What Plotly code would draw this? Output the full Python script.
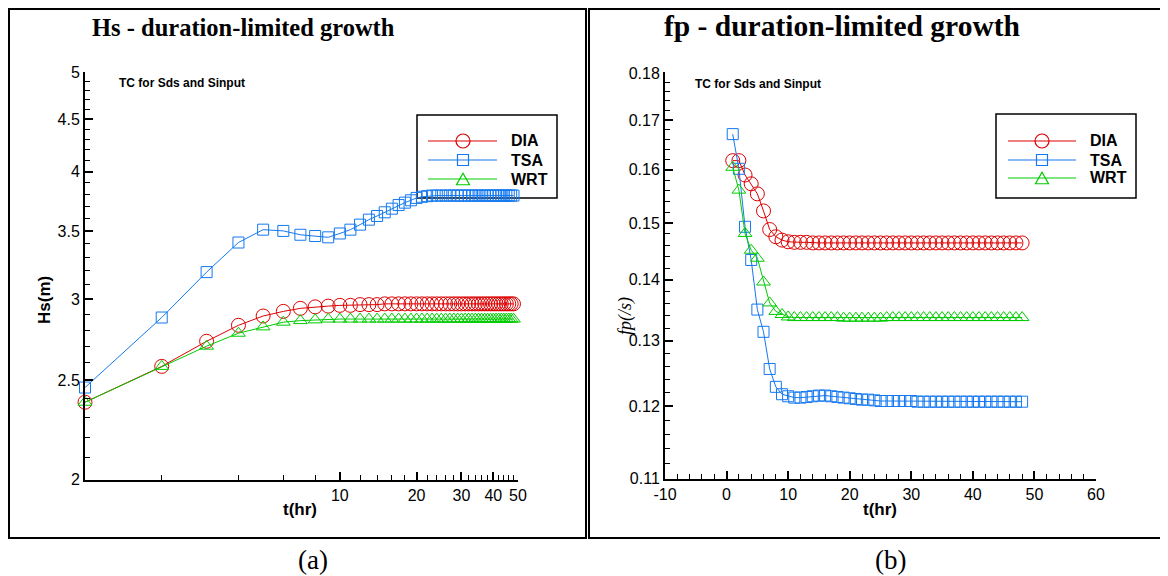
import plotly.graph_objects as go
import math

# The page shows the figure 8 px in from the top-left corner of the window,
# so the figure is 1160x568 and window positions are converted below.
OFF = 8
W, H = 1168 - OFF, 576 - OFF

# ---------------- data ----------------
t_hr = list(range(1, 49))

hs_dia = [2.38, 2.58, 2.73, 2.83, 2.89, 2.92, 2.94, 2.95, 2.955, 2.96,
          2.96, 2.965, 2.965, 2.965, 2.97, 2.97, 2.97, 2.97, 2.97, 2.97,
          2.97, 2.97, 2.97, 2.97, 2.97, 2.97, 2.97, 2.97, 2.97, 2.97,
          2.97, 2.97, 2.97, 2.97, 2.97, 2.97, 2.97, 2.97, 2.97, 2.97,
          2.97, 2.97, 2.97, 2.97, 2.97, 2.97, 2.97, 2.97]
hs_tsa = [2.46, 2.88, 3.19, 3.41, 3.51, 3.50, 3.47, 3.46, 3.45, 3.48,
          3.51, 3.55, 3.59, 3.62, 3.65, 3.68, 3.71, 3.73, 3.75, 3.77,
          3.78, 3.785, 3.79, 3.79, 3.79, 3.79, 3.79, 3.79, 3.79, 3.79,
          3.79, 3.79, 3.79, 3.79, 3.79, 3.79, 3.79, 3.79, 3.79, 3.79,
          3.79, 3.79, 3.79, 3.79, 3.79, 3.79, 3.79, 3.79]
hs_wrt = [2.38, 2.58, 2.70, 2.78, 2.82, 2.85, 2.86, 2.865, 2.87, 2.87,
          2.87, 2.87, 2.87, 2.87, 2.87, 2.87, 2.87, 2.87, 2.87, 2.87,
          2.87, 2.87, 2.87, 2.87, 2.87, 2.87, 2.87, 2.87, 2.87, 2.87,
          2.87, 2.87, 2.87, 2.87, 2.87, 2.87, 2.87, 2.87, 2.87, 2.87,
          2.87, 2.87, 2.87, 2.87, 2.87, 2.87, 2.87, 2.87]

fp_dia = [0.1618, 0.1618, 0.1590, 0.1573, 0.1554, 0.1522, 0.1488, 0.1475, 0.1469, 0.1466,
          0.1465, 0.1465, 0.1465, 0.1464, 0.1464, 0.1464, 0.1464, 0.1464, 0.1464, 0.1464,
          0.1464, 0.1464, 0.1464, 0.1464, 0.1464, 0.1464, 0.1464, 0.1464, 0.1464, 0.1464,
          0.1464, 0.1464, 0.1464, 0.1464, 0.1464, 0.1464, 0.1464, 0.1464, 0.1464, 0.1464,
          0.1464, 0.1464, 0.1464, 0.1464, 0.1464, 0.1464, 0.1464, 0.1464]
fp_tsa = [0.1671, 0.1602, 0.1493, 0.1434, 0.1350, 0.1314, 0.1256, 0.1229, 0.1218, 0.1215,
          0.1213, 0.1213, 0.1214, 0.1215, 0.1216, 0.1216, 0.1215, 0.1214, 0.1213, 0.1212,
          0.1211, 0.1210, 0.1210, 0.1209, 0.1208, 0.1208, 0.1208, 0.1208, 0.1208, 0.1208,
          0.1207, 0.1207, 0.1207, 0.1207, 0.1207, 0.1207, 0.1207, 0.1207, 0.1207, 0.1207,
          0.1207, 0.1207, 0.1207, 0.1207, 0.1207, 0.1207, 0.1207, 0.1207]
fp_wrt = [0.1605, 0.1561, 0.1481, 0.1451, 0.1437, 0.1396, 0.1361, 0.1347, 0.1342, 0.1338,
          0.1337, 0.1337, 0.1337, 0.1337, 0.1337, 0.1337, 0.1337, 0.1337, 0.1336, 0.1336,
          0.1336, 0.1336, 0.1336, 0.1336, 0.1336, 0.1337, 0.1337, 0.1337, 0.1337, 0.1337,
          0.1337, 0.1337, 0.1337, 0.1337, 0.1337, 0.1337, 0.1337, 0.1337, 0.1337, 0.1337,
          0.1337, 0.1337, 0.1337, 0.1337, 0.1337, 0.1337, 0.1337, 0.1337]

series_names = ["DIA", "TSA", "WRT"]
hs_x_ticks = [10, 20, 30, 40, 50]
hs_x_labels = ["10", "20", "30", "40", "50"]
hs_x_minor = [2, 4, 6, 8, 12, 14, 16, 18, 22, 24, 26, 28, 32, 34, 36, 38, 42, 44, 46, 48]
hs_y_ticks = [2, 2.5, 3, 3.5, 4, 4.5, 5]
hs_y_labels = ["2", "2.5", "3", "3.5", "4", "4.5", "5"]
hs_y_minor = [2.1, 2.2, 2.3, 2.4, 2.6, 2.7, 2.8, 2.9, 3.1, 3.2, 3.3, 3.4, 3.6, 3.7, 3.8, 3.9,
              4.1, 4.2, 4.3, 4.4, 4.6, 4.7, 4.8, 4.9]
fp_x_ticks = [-10, 0, 10, 20, 30, 40, 50, 60]
fp_x_labels = ["-10", "0", "10", "20", "30", "40", "50", "60"]
fp_y_ticks = [0.11, 0.12, 0.13, 0.14, 0.15, 0.16, 0.17, 0.18]
fp_y_labels = ["0.11", "0.12", "0.13", "0.14", "0.15", "0.16", "0.17", "0.18"]
fp_y_minor = [0.112, 0.114, 0.116, 0.118, 0.122, 0.124, 0.126, 0.128, 0.132, 0.134, 0.136, 0.138,
              0.142, 0.144, 0.146, 0.148, 0.152, 0.154, 0.156, 0.158, 0.162, 0.164, 0.166, 0.168,
              0.172, 0.174, 0.176, 0.178]

# ---------------- styles ----------------
colors = {"DIA": "#dd0000", "TSA": "#1478f0", "WRT": "#00cc00"}
symbols = {"DIA": "circle-open", "TSA": "square-open", "WRT": "triangle-up-open"}
sizes = {"DIA": 14, "TSA": 11, "WRT": 12}
SANS = "Liberation Sans"
SERIF = "Liberation Serif"


def px(x):
    """window pixel x -> paper fraction"""
    return (x - OFF) / W


def py(y):
    """window pixel y -> paper fraction"""
    return 1 - (y - OFF) / H


fig = go.Figure()

hs_data = {"DIA": hs_dia, "TSA": hs_tsa, "WRT": hs_wrt}
fp_data = {"DIA": fp_dia, "TSA": fp_tsa, "WRT": fp_wrt}

for name in series_names:
    fig.add_trace(go.Scatter(
        x=t_hr, y=hs_data[name], mode="lines+markers", name=name, showlegend=False,
        line=dict(color=colors[name], width=1),
        marker=dict(symbol=symbols[name], size=sizes[name], color=colors[name],
                    line=dict(width=1, color=colors[name])),
        xaxis="x", yaxis="y", cliponaxis=False))
for name in series_names:
    fig.add_trace(go.Scatter(
        x=t_hr, y=fp_data[name], mode="lines+markers", name=name, showlegend=False,
        line=dict(color=colors[name], width=1),
        marker=dict(symbol=symbols[name], size=sizes[name], color=colors[name],
                    line=dict(width=1, color=colors[name])),
        xaxis="x2", yaxis="y2", cliponaxis=False))

tickfont = dict(family=SANS, size=16, color="black")
axis_common = dict(showline=True, linecolor="black", linewidth=2, mirror=False,
                   ticks="inside", ticklen=8, tickwidth=2, tickcolor="black",
                   showgrid=False, zeroline=False, tickfont=tickfont, automargin=False)
minor_common = dict(ticks="inside", ticklen=5, tickwidth=1, tickcolor="black", showgrid=False)

fig.update_layout(
    width=W, height=H,
    margin=dict(l=0, r=0, t=0, b=0, pad=0, autoexpand=False),
    paper_bgcolor="white", plot_bgcolor="rgba(0,0,0,0)",
    showlegend=False,
    xaxis=dict(domain=[px(85), px(518)], type="log", range=[0, math.log10(50)],
               tickmode="array", tickvals=hs_x_ticks, ticktext=hs_x_labels,
               minor=dict(tickmode="array", tickvals=hs_x_minor, **minor_common),
               anchor="y", **axis_common),
    yaxis=dict(domain=[py(480), py(72)], type="log",
               range=[math.log10(2) - 0.0005, math.log10(5) + 0.0005],
               tickmode="array", tickvals=hs_y_ticks, ticktext=hs_y_labels,
               minor=dict(tickmode="array", tickvals=hs_y_minor, **minor_common),
               anchor="x", **axis_common),
    xaxis2=dict(domain=[px(665), px(1096)], type="linear", range=[-10, 60],
                tickmode="array", tickvals=fp_x_ticks, ticktext=fp_x_labels,
                minor=dict(tickmode="linear", tick0=-10, dtick=2, **minor_common),
                anchor="y2", **axis_common),
    yaxis2=dict(domain=[py(479), py(72)], type="log",
                range=[math.log10(0.11) - 0.0005, math.log10(0.18) + 0.0005],
                tickmode="array", tickvals=fp_y_ticks, ticktext=fp_y_labels,
                minor=dict(tickmode="array", tickvals=fp_y_minor, **minor_common),
                anchor="x2", **axis_common),
)

# panel frames
for x0, x1 in [(9, 586), (589, 1165)]:
    fig.add_shape(type="rect", xref="paper", yref="paper",
                  x0=px(x0), x1=px(x1), y0=py(538), y1=py(9),
                  line=dict(color="black", width=2), fillcolor="rgba(0,0,0,0)", layer="below")

# legends (box, sample line, sample marker, label) drawn as layout decoration
legend_boxes = [
    dict(box=(417, 557, 115, 198), line=(428, 497), mark=463, text=509, rows=(141, 160, 179)),
    dict(box=(996, 1136, 114, 198), line=(1008, 1076), mark=1042, text=1088, rows=(141, 160, 178)),
]
for lg in legend_boxes:
    bx0, bx1, by0, by1 = lg["box"]
    fig.add_shape(type="rect", xref="paper", yref="paper",
                  x0=px(bx0), x1=px(bx1), y0=py(by1), y1=py(by0),
                  line=dict(color="black", width=1.5), fillcolor="white", layer="below")
    for name, ry in zip(series_names, lg["rows"]):
        c = colors[name]
        fig.add_shape(type="line", xref="paper", yref="paper",
                      x0=px(lg["line"][0]), x1=px(lg["line"][1]), y0=py(ry), y1=py(ry),
                      line=dict(color=c, width=1.2), layer="below")
        mx = lg["mark"]
        if name == "DIA":
            r = 7
            fig.add_shape(type="circle", xref="paper", yref="paper",
                          x0=px(mx - r), x1=px(mx + r), y0=py(ry + r), y1=py(ry - r),
                          line=dict(color=c, width=1.2), fillcolor="rgba(0,0,0,0)", layer="below")
        elif name == "TSA":
            r = 5.5
            fig.add_shape(type="rect", xref="paper", yref="paper",
                          x0=px(mx - r), x1=px(mx + r), y0=py(ry + r), y1=py(ry - r),
                          line=dict(color=c, width=1.2), fillcolor="rgba(0,0,0,0)", layer="below")
        else:
            hw, h = 6.5, 11.5
            path = (f"M {px(mx - hw)},{py(ry + h / 2)} L {px(mx + hw)},{py(ry + h / 2)} "
                    f"L {px(mx)},{py(ry - h / 2)} Z")
            fig.add_shape(type="path", xref="paper", yref="paper", path=path,
                          line=dict(color=c, width=1.2), fillcolor="rgba(0,0,0,0)", layer="below")
        fig.add_annotation(xref="paper", yref="paper", showarrow=False,
                           x=px(lg["text"]), y=py(ry), xanchor="left", yanchor="middle",
                           text=f"<b>{name}</b>",
                           font=dict(family=SANS, size=16, color="black"))

annots = [
    dict(text="<b>Hs - duration-limited growth</b>", x=px(243), y=py(28),
         font=dict(family=SERIF, size=24.5, color="black")),
    dict(text="<b>fp - duration-limited growth</b>", x=px(842), y=py(26),
         font=dict(family=SERIF, size=29.5, color="black")),
    dict(text="<b>TC for Sds and Sinput</b>", x=px(182), y=py(83),
         font=dict(family=SANS, size=12, color="black")),
    dict(text="<b>TC for Sds and Sinput</b>", x=px(758), y=py(84),
         font=dict(family=SANS, size=12, color="black")),
    dict(text="<b>t(hr)</b>", x=px(300), y=py(509),
         font=dict(family=SANS, size=17, color="black")),
    dict(text="<b>t(hr)</b>", x=px(880), y=py(509),
         font=dict(family=SANS, size=17, color="black")),
    dict(text="<b>Hs(m)</b>", x=px(44), y=py(300), textangle=-90,
         font=dict(family=SANS, size=17, color="black")),
    dict(text="<i>fp(/s)</i>", x=px(625), y=py(316), textangle=-90,
         font=dict(family=SERIF, size=18, color="black")),
    dict(text="(a)", x=px(313), y=py(560),
         font=dict(family=SERIF, size=27, color="black")),
    dict(text="(b)", x=px(890), y=py(560),
         font=dict(family=SERIF, size=27, color="black")),
]
for a in annots:
    fig.add_annotation(xref="paper", yref="paper", showarrow=False,
                       xanchor="center", yanchor="middle", **a)

fig.write_html("out.html")
